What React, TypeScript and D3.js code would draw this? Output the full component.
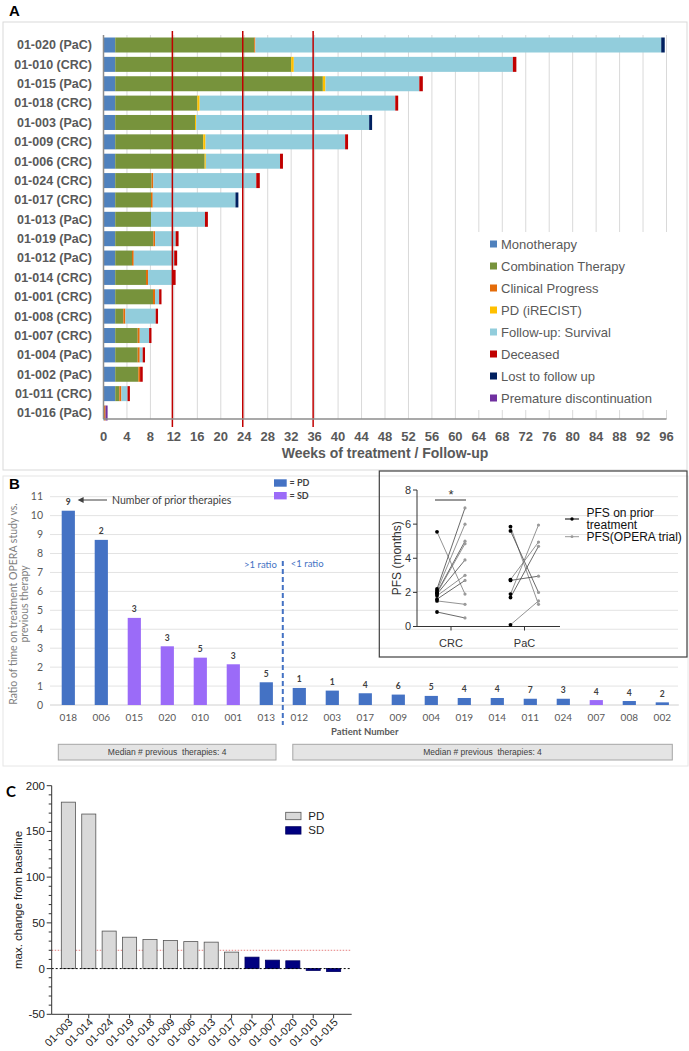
import React from 'react';
import * as d3 from 'd3';

// ---------- Panel A data ----------
const patientsA = ['01-020 (PaC)', '01-010 (CRC)', '01-015 (PaC)', '01-018 (CRC)', '01-003 (PaC)', '01-009 (CRC)', '01-006 (CRC)', '01-024 (CRC)', '01-017 (CRC)', '01-013 (PaC)', '01-019 (PaC)', '01-012 (PaC)', '01-014 (CRC)', '01-001 (CRC)', '01-008 (CRC)', '01-007 (CRC)', '01-004 (PaC)', '01-002 (PaC)', '01-011 (CRC)', '01-016 (PaC)'];
const monotherapy = [2, 2, 2, 2, 2, 2, 2, 2, 2, 2, 2, 2, 2, 2, 2, 2, 2, 2, 2, 0.1];
const combination = [23.7, 30.0, 35.4, 14.0, 13.6, 15.0, 15.25, 6.2, 6.1, 6.1, 6.5, 2.86, 5.25, 6.44, 1.38, 3.83, 3.83, 3.94, 0.7, 0];
const clinicalProgress = [0.2, 0, 0, 0, 0, 0, 0, 0.3, 0.3, 0, 0.3, 0.3, 0.35, 0.35, 0.35, 0.35, 0.35, 0.3, 0.35, 0.25];
const pdIrecist = [0, 0.45, 0.45, 0.4, 0.2, 0.4, 0.2, 0, 0, 0, 0, 0, 0, 0, 0, 0, 0, 0, 0, 0];
const followUp = [69.2, 37.35, 16.0, 33.35, 29.5, 23.8, 12.65, 17.55, 14.1, 9.2, 3.5, 6.9, 4.25, 0.7, 5.17, 1.6, 0.5, 0, 1.05, 0];
const deceased = [0, 0.6, 0.6, 0.5, 0, 0.5, 0.5, 0.6, 0, 0.5, 0.5, 0.5, 0.45, 0.4, 0.4, 0.4, 0.4, 0.45, 0.4, 0];
const lostToFollowUp = [0.6, 0, 0, 0, 0.5, 0, 0, 0, 0.5, 0, 0, 0, 0, 0, 0, 0, 0, 0, 0, 0];
const prematureDiscontinuation = [0, 0, 0, 0, 0, 0, 0, 0, 0, 0, 0, 0, 0, 0, 0, 0, 0, 0, 0, 0.35];
const seriesNamesA = ['Monotherapy', 'Combination Therapy', 'Clinical Progress', 'PD (iRECIST)', 'Follow-up: Survival', 'Deceased', 'Lost to follow up', 'Premature discontinuation'];
const seriesColorsA = ['#4f81bd', '#77933c', '#e46c0a', '#ffc000', '#92cddc', '#c00000', '#002060', '#7030a0'];
const weekTicks = [0, 4, 8, 12, 16, 20, 24, 28, 32, 36, 40, 44, 48, 52, 56, 60, 64, 68, 72, 76, 80, 84, 88, 92, 96];
const milestoneWeeks = [12, 24, 36];

// ---------- Panel B data ----------
const patientsB = ['018', '006', '015', '020', '010', '001', '013', '012', '003', '017', '009', '004', '019', '014', '011', '024', '007', '008', '002'];
const ratioB = [10.26, 8.72, 4.6, 3.1, 2.5, 2.15, 1.2, 0.9, 0.76, 0.62, 0.55, 0.48, 0.37, 0.37, 0.33, 0.33, 0.26, 0.21, 0.14];
const responseB = ['PD', 'PD', 'SD', 'SD', 'SD', 'SD', 'PD', 'PD', 'PD', 'PD', 'PD', 'PD', 'PD', 'PD', 'PD', 'PD', 'SD', 'PD', 'PD'];
const priorTherapies = [9, 2, 3, 3, 5, 3, 5, 1, 1, 4, 6, 5, 4, 4, 7, 3, 4, 4, 2];
const ratioTicks = [0, 1, 2, 3, 4, 5, 6, 7, 8, 9, 10, 11];

// ---------- Inset data ----------
const crcPrior = [5.55, 2.2, 2.1, 2.0, 1.95, 1.9, 1.8, 1.6, 1.5, 0.85];
const crcOpera = [1.9, 6.95, 6.0, 5.0, 4.85, 3.9, 3.0, 2.7, 1.3, 0.5];
const pacPrior = [5.85, 5.6, 2.75, 2.7, 1.9, 1.7, 0.1];
const pacOpera = [1.3, 2.0, 4.95, 2.95, 5.95, 4.7, 1.5];
const pfsTicks = [0, 2, 4, 6, 8];

// ---------- Panel C data ----------
const patientsC = ['01-003', '01-014', '01-024', '01-019', '01-018', '01-009', '01-006', '01-013', '01-017', '01-001', '01-007', '01-020', '01-010', '01-015'];
const changeC = [182, 169, 41, 34.3, 31.7, 30.6, 29.5, 28.9, 18, 12.5, 9.2, 8.5, -2, -3.3];
const responseC = ['PD', 'PD', 'PD', 'PD', 'PD', 'PD', 'PD', 'PD', 'PD', 'SD', 'SD', 'SD', 'SD', 'SD'];
const changeTicks = [-50, 0, 50, 100, 150, 200];
const progressionThreshold = 20;

const F = "'Liberation Sans', Arial, sans-serif";
const FB = "Lato, 'Liberation Sans', sans-serif";

export default function App() {
  // ===== Panel A =====
  const xA = d3.scaleLinear().domain([0, 96]).range([103.5, 666.5]);
  const yA = d3.scalePoint<string>().domain(patientsA).range([45, 413]);
  const keysA = ['mono', 'combo', 'clin', 'pd', 'fu', 'dec', 'lost', 'prem'];
  const rowsA = patientsA.map((p, i) => ({
    id: p, mono: monotherapy[i], combo: combination[i], clin: clinicalProgress[i], pd: pdIrecist[i],
    fu: followUp[i], dec: deceased[i], lost: lostToFollowUp[i], prem: prematureDiscontinuation[i],
  }));
  const stackA = d3.stack<any>().keys(keysA)(rowsA);
  const barHA = 15;

  // ===== Panel B =====
  const xB = d3.scaleBand<string>().domain(patientsB).range([51.8, 678.8]).paddingInner(0.6).paddingOuter(0.3);
  const yB = d3.scaleLinear().domain([0, 11]).range([705, 496.7]);
  const stepB = xB.step();
  const bandStart = (p: string) => xB(p)! - (stepB - xB.bandwidth()) / 2;
  const bandEnd = (p: string) => bandStart(p) + stepB;
  const splitX = bandEnd('013');

  // ===== Inset =====
  const yI = d3.scaleLinear().domain([0, 8]).range([626.5, 490]);
  const xI = d3.scalePoint<string>().domain(['CRC', 'PaC']).range([451, 524.5]);
  const off = 14;

  // ===== Panel C =====
  const xC = d3.scaleBand<string>().domain(patientsC).range([55, 347]).padding(0.31);
  const yC = d3.scaleLinear().domain([-50, 200]).range([1014.3, 785.7]);
  const minorC = d3.range(-50, 201, 10);
  const axLeftC = 51.7, axRightC = 351.7;

  return (
    <svg width={689} height={1051} style={{ position: 'absolute', left: 0, top: 0, background: '#fff' }} fontFamily={F}>
      <rect x={0} y={0} width={689} height={1051} fill="#fff" />

      {/* ================= PANEL A ================= */}
      <rect x={3} y={22} width={684} height={448} fill="none" stroke="#d9d9d9" strokeWidth={1} />
      <text x={9} y={16} fontSize={15} fontWeight="bold" fill="#000">A</text>
      {weekTicks.map(t => (
        <line key={'ga' + t} x1={xA(t)} x2={xA(t)} y1={35} y2={419} stroke="#d9d9d9" strokeWidth={1} />
      ))}
      {stackA.map((s, si) => (
        <g key={'sa' + si} fill={seriesColorsA[si]}>
          {s.map((d: any, i: number) => (d[1] - d[0] > 0 ? (
            <rect key={i} x={xA(d[0])} y={yA(patientsA[i])! - barHA / 2} width={xA(d[1]) - xA(d[0])} height={barHA} />
          ) : null))}
        </g>
      ))}
      {milestoneWeeks.map(t => (
        <line key={'ra' + t} x1={xA(t) - 1.5} x2={xA(t) - 1.5} y1={31} y2={427} stroke="#c00000" strokeWidth={1.5} />
      ))}
      {/* legend */}
      <rect x={478} y={232} width={192} height={178} fill="#fff" />
      {seriesNamesA.map((n, i) => (
        <g key={'la' + i}>
          <rect x={490} y={244 + i * 22 - 3.5} width={7} height={7} fill={seriesColorsA[i]} />
          <text x={501} y={244 + i * 22} dy="0.35em" fontSize={13} fill="#595959">{n}</text>
        </g>
      ))}
      <line x1={xA(0)} x2={xA(0)} y1={35} y2={419} stroke="#8c8c8c" strokeWidth={1.5} />
      <line x1={xA(0)} x2={xA(96)} y1={419} y2={419} stroke="#8c8c8c" strokeWidth={1.5} />
      {patientsA.map(p => (
        <text key={'ya' + p} x={92} y={yA(p)!} dy="0.35em" textAnchor="end" fontSize={12.5} fontWeight="bold" fill="#595959">{p}</text>
      ))}
      {weekTicks.map(t => (
        <text key={'xa' + t} x={xA(t)} y={436} dy="0.35em" textAnchor="middle" fontSize={13} fontWeight="bold" fill="#595959">{t}</text>
      ))}
      <text x={(xA(0) + xA(96)) / 2} y={453} dy="0.35em" textAnchor="middle" fontSize={14} fontWeight="bold" fill="#595959">Weeks of treatment / Follow-up</text>

      {/* ================= PANEL B ================= */}
      <rect x={3} y={476} width={685} height={290} fill="none" stroke="#e6e6e6" strokeWidth={1} />
      {ratioTicks.filter(t => t > 0).map(t => (
        <line key={'gb' + t} x1={50} x2={678} y1={yB(t)} y2={yB(t)} stroke="#e3e3e3" strokeWidth={1} />
      ))}
      <line x1={50} x2={678.8} y1={yB(0)} y2={yB(0)} stroke="#d0d0d0" strokeWidth={1} />
      <text x={9} y={489} fontSize={15} fontWeight="bold" fill="#000">B</text>
      {ratioTicks.map(t => (
        <text key={'yb' + t} x={43} y={yB(t)} dy="0.35em" textAnchor="end" fontFamily={FB} fontSize={10.5} fill="#595959">{t}</text>
      ))}
      <g fontFamily={FB} fontSize={10.5} fill="#7f7f7f" textAnchor="middle">
        <text transform={`translate(17,${604}) rotate(-90)`}>Ratio of time on treatment OPERA study vs.</text>
        <text transform={`translate(28,${604}) rotate(-90)`}>previous therapy</text>
      </g>
      {patientsB.map((p, i) => (
        <g key={'bb' + p}>
          <rect x={xB(p)} y={yB(ratioB[i])} width={xB.bandwidth()} height={yB(0) - yB(ratioB[i])} fill={responseB[i] === 'PD' ? '#4472c4' : '#9b6bf8'} />
          <text x={xB(p)! + xB.bandwidth() / 2} y={yB(ratioB[i]) - 5.5} textAnchor="middle" fontFamily={FB} fontSize={8.5} fontWeight="bold" fill="#404040">{priorTherapies[i]}</text>
          <text x={xB(p)! + xB.bandwidth() / 2} y={717} dy="0.35em" textAnchor="middle" fontFamily={FB} fontSize={10} fill="#595959">{p}</text>
        </g>
      ))}
      {/* annotation */}
      <defs>
        <marker id="arrB" viewBox="0 0 10 10" refX={1} refY={5} markerWidth={8} markerHeight={6} orient="auto-start-reverse">
          <path d="M0,0 L10,5 L0,10 z" fill="#404040" />
        </marker>
      </defs>
      <line x1={107} x2={83} y1={500} y2={500} stroke="#404040" strokeWidth={1} markerEnd="url(#arrB)" />
      <text x={112} y={500} dy="0.35em" fontFamily={FB} fontSize={10.5} fill="#404040">Number of prior therapies</text>
      {/* PD/SD legend */}
      <rect x={274} y={479.3} width={12.7} height={7.4} fill="#4472c4" />
      <text x={289.5} y={483} dy="0.35em" fontFamily={FB} fontSize={9} fontWeight="bold" fill="#404040">= PD</text>
      <rect x={274} y={492} width={12.7} height={7.4} fill="#9b6bf8" />
      <text x={289.5} y={495.7} dy="0.35em" fontFamily={FB} fontSize={9} fontWeight="bold" fill="#404040">= SD</text>
      {/* split */}
      <line x1={splitX} x2={splitX} y1={561} y2={725} stroke="#4472c4" strokeWidth={2} strokeDasharray="5,3" />
      <text x={splitX - 6} y={565} dy="0.35em" textAnchor="end" fontFamily={FB} fontSize={9.5} fill="#4472c4">&gt;1 ratio</text>
      <text x={splitX + 8} y={564} dy="0.35em" fontFamily={FB} fontSize={9.5} fill="#4472c4">&lt;1 ratio</text>
      <text x={(bandStart('012') + bandEnd('002')) / 2 - 116} y={732} dy="0.35em" textAnchor="middle" fontFamily={FB} fontSize={9.5} fontWeight="bold" fill="#595959">Patient Number</text>
      {/* median boxes */}
      {[
        [bandStart('018') + 6.5, bandEnd('013') - 6.8],
        [bandStart('012') + 10, bandEnd('002') - 6.5],
      ].map(([a, b], i) => (
        <g key={'mb' + i}>
          <rect x={a} y={744.3} width={b - a} height={15.7} fill="#e4e4e4" stroke="#a6a6a6" strokeWidth={1} />
          <text x={(a + b) / 2} y={752.2} dy="0.35em" textAnchor="middle" fontSize={8.5} fill="#404040" style={{ whiteSpace: 'pre' }}>{'Median # previous  therapies: 4'}</text>
        </g>
      ))}

      {/* ================= INSET ================= */}
      <rect x={379.3} y={471} width={307.7} height={186} fill="none" stroke="#404040" strokeWidth={1.2} />
      <line x1={417} x2={417} y1={yI(8)} y2={yI(0)} stroke="#333" strokeWidth={1} />
      {pfsTicks.map(t => (
        <g key={'pi' + t}>
          <line x1={413} x2={417} y1={yI(t)} y2={yI(t)} stroke="#333" strokeWidth={1} />
          <text x={411} y={yI(t)} dy="0.35em" textAnchor="end" fontSize={11} fill="#333">{t}</text>
        </g>
      ))}
      <line x1={417} x2={560} y1={yI(0)} y2={yI(0)} stroke="#333" strokeWidth={1} />
      {['CRC', 'PaC'].map(g => (
        <g key={'xi' + g}>
          <line x1={xI(g)} x2={xI(g)} y1={yI(0)} y2={yI(0) + 4} stroke="#333" />
          <text x={xI(g)} y={643} dy="0.35em" textAnchor="middle" fontSize={11} fill="#333">{g}</text>
        </g>
      ))}
      <text transform={`translate(401,${yI(4)}) rotate(-90)`} textAnchor="middle" fontSize={12} fill="#333">PFS  (months)</text>
      <line x1={xI('CRC')! - off - 2} x2={xI('CRC')! + off + 1} y1={500} y2={500} stroke="#333" strokeWidth={1} />
      <text x={xI('CRC')!} y={499} textAnchor="middle" fontSize={13} fill="#333">*</text>
      {[
        { g: 'CRC', pr: crcPrior, op: crcOpera },
        { g: 'PaC', pr: pacPrior, op: pacOpera },
      ].map(({ g, pr, op }) => (
        <g key={'pairs' + g}>
          {pr.map((v, i) => (
            <line key={'l' + i} x1={xI(g)! - off} x2={xI(g)! + off} y1={yI(v)} y2={yI(op[i])} stroke={i % 2 ? '#444' : '#777'} strokeWidth={0.8} />
          ))}
          {op.map((v, i) => (
            <circle key={'o' + i} cx={xI(g)! + off} cy={yI(v)} r={1.6} fill="#9a9a9a" />
          ))}
          {pr.map((v, i) => (
            <circle key={'p' + i} cx={xI(g)! - off} cy={yI(v)} r={1.9} fill="#000" />
          ))}
        </g>
      ))}
      <line x1={565} x2={579} y1={519} y2={519} stroke="#000" strokeWidth={1} />
      <circle cx={572} cy={519} r={1.7} fill="#000" />
      <text x={586.5} y={516.5} fontSize={12} fill="#111">PFS on prior</text>
      <text x={586.5} y={528.5} fontSize={12} fill="#111">treatment</text>
      <line x1={565} x2={579} y1={536.7} y2={536.7} stroke="#999" strokeWidth={1} />
      <circle cx={572} cy={536.7} r={1.4} fill="#999" />
      <text x={586.5} y={540.5} fontSize={12} fill="#111">PFS(OPERA trial)</text>

      {/* ================= PANEL C ================= */}
      <text x={6} y={797} fontSize={15} fontWeight="bold" fill="#000" fontFamily={FB}>C</text>
      <line x1={axLeftC} x2={axRightC} y1={yC(progressionThreshold)} y2={yC(progressionThreshold)} stroke="#e06060" strokeWidth={0.8} strokeDasharray="1.5,1.5" />
      {patientsC.map((p, i) => (
        <rect key={'bc' + p} x={xC(p)} y={yC(Math.max(0, changeC[i]))} width={xC.bandwidth()} height={Math.abs(yC(changeC[i]) - yC(0))}
          fill={responseC[i] === 'PD' ? '#d9d9d9' : '#000080'} stroke={responseC[i] === 'PD' ? '#555' : '#000060'} strokeWidth={0.8} />
      ))}
      <line x1={axLeftC} x2={axRightC} y1={yC(0)} y2={yC(0)} stroke="#000" strokeWidth={1} strokeDasharray="2,2" />
      <line x1={axLeftC} x2={axLeftC} y1={yC(200)} y2={yC(-50)} stroke="#333" strokeWidth={1} />
      <line x1={axLeftC} x2={axRightC} y1={yC(-50)} y2={yC(-50)} stroke="#333" strokeWidth={1} />
      {minorC.map(t => (
        <line key={'mc' + t} x1={axLeftC - (changeTicks.includes(t) ? 5 : 3)} x2={axLeftC} y1={yC(t)} y2={yC(t)} stroke="#333" strokeWidth={1} />
      ))}
      {changeTicks.map(t => (
        <text key={'yc' + t} x={45} y={yC(t)} dy="0.35em" textAnchor="end" fontSize={11.5} fill="#222">{t}</text>
      ))}
      <text transform={`translate(22,${(yC(200) + yC(-50)) / 2}) rotate(-90)`} textAnchor="middle" fontSize={11.5} fill="#222">max. change from baseline</text>
      {patientsC.map(p => {
        const cx = xC(p)! + xC.bandwidth() / 2;
        return (
          <g key={'xc' + p}>
            <line x1={cx} x2={cx} y1={yC(-50)} y2={yC(-50) + 4} stroke="#333" strokeWidth={1} />
            <text transform={`translate(${cx + 5},${1023}) rotate(-45)`} textAnchor="end" fontSize={11} fill="#222">{p}</text>
          </g>
        );
      })}
      <rect x={285.7} y={812.3} width={15.3} height={7.4} fill="#d9d9d9" stroke="#555" strokeWidth={0.8} />
      <text x={308.3} y={815.8} dy="0.35em" fontSize={11.5} fill="#222">PD</text>
      <rect x={285.7} y={826.7} width={15.3} height={7.4} fill="#000080" stroke="#000060" strokeWidth={0.8} />
      <text x={308.3} y={830.2} dy="0.35em" fontSize={11.5} fill="#222">SD</text>
    </svg>
  );
}
